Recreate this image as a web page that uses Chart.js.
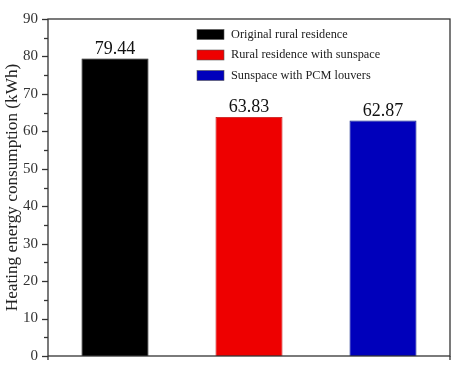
<!DOCTYPE html>
<html><head><meta charset="utf-8">
<script src="https://cdn.jsdelivr.net/npm/chart.js@4"></script>
<style>html,body{margin:0;padding:0;background:#fff}#wrap{width:457px;height:375px}</style>
</head><body><div id="wrap"><canvas id="c" width="457" height="375"></canvas></div>
<script>
const categories = ["Original rural residence", "Rural residence with sunspace", "Sunspace with PCM louvers"];
const values = [79.44, 63.83, 62.87];
const barColors = ["#000000", "#ee0000", "#0000bb"];
const yTicks = [0, 10, 20, 30, 40, 50, 60, 70, 80, 90];
const yTitle = "Heating energy consumption (kWh)";
const SERIF = "'Liberation Serif','Times New Roman',serif";

const framePlugin = {
  id: 'frame',
  afterDraw(chart) {
    const {ctx, chartArea: a, scales: {y}} = chart;
    ctx.save();
    ctx.strokeStyle = '#333';
    ctx.lineWidth = 1.3;
    ctx.strokeRect(a.left, a.top, a.right - a.left, a.bottom - a.top);
    for (let v = 0; v <= 90; v += 5) {
      const py = Math.round(y.getPixelForValue(v)) + 0.5;
      const len = v % 10 === 0 ? 6 : 4;
      ctx.beginPath(); ctx.moveTo(a.left - len, py); ctx.lineTo(a.left, py); ctx.stroke();
    }
    ctx.beginPath(); ctx.moveTo(a.left, a.bottom); ctx.lineTo(a.left, a.bottom + 4);
    ctx.moveTo(a.right, a.bottom); ctx.lineTo(a.right, a.bottom + 4); ctx.stroke();
    const meta = chart.getDatasetMeta(0);
    ctx.fillStyle = '#111';
    ctx.font = '18px ' + SERIF;
    ctx.textAlign = 'center';
    ctx.textBaseline = 'alphabetic';
    meta.data.forEach((bar, i) => {
      ctx.fillText(values[i].toFixed(2), bar.x, bar.y - 5);
    });
    ctx.font = '12.3px ' + SERIF;
    ctx.textAlign = 'left';
    ctx.textBaseline = 'middle';
    categories.forEach((c, i) => {
      const cy = 34.5 + i * 20.5;
      ctx.fillStyle = barColors[i];
      ctx.fillRect(197, cy - 5, 27, 10);
      ctx.strokeStyle = '#555'; ctx.lineWidth = 0.6;
      ctx.strokeRect(197, cy - 5, 27, 10);
      ctx.fillStyle = '#222';
      ctx.fillText(c, 231, cy);
    });
    ctx.restore();
  }
};

new Chart(document.getElementById('c'), {
  type: 'bar',
  data: {
    labels: categories,
    datasets: [{
      data: values,
      backgroundColor: barColors,
      borderColor: ['#000', '#b00', '#001a80'],
      borderWidth: 0.8,
      barPercentage: 0.5,
      categoryPercentage: 1.0
    }]
  },
  options: {
    responsive: false,
    animation: false,
    devicePixelRatio: 1,
    layout: { padding: { top: 12, right: 7, left: 2, bottom: 0 } },
    plugins: { legend: { display: false }, tooltip: { enabled: false } },
    scales: {
      x: {
        grid: { display: false, drawTicks: false },
        border: { display: false },
        ticks: { display: false },
        afterFit(s) { s.height = 18; }
      },
      y: {
        min: 0, max: 90,
        afterBuildTicks(s) { s.ticks = yTicks.map(v => ({ value: v })); },
        grid: { display: false, drawTicks: false },
        border: { display: false },
        ticks: { color: '#333', font: { family: SERIF, size: 15 }, padding: 10 },
        title: { display: true, text: yTitle, color: '#222', font: { family: SERIF, size: 17.2 }, padding: 0 },
        afterFit(s) { s.width = 46; }
      }
    }
  },
  plugins: [framePlugin]
});
</script></body></html>
